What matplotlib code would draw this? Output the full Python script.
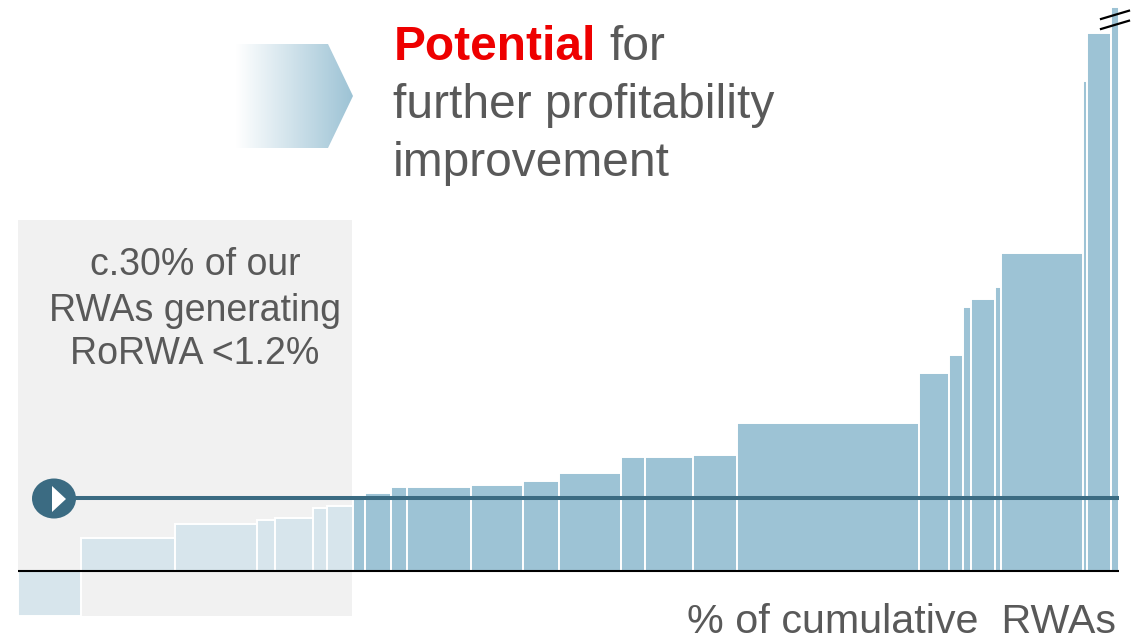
import numpy as np
import matplotlib
matplotlib.use("Agg")
import matplotlib.pyplot as plt
from matplotlib.patches import Polygon, Ellipse, Rectangle

plt.rcParams['font.family'] = ['Liberation Sans', 'DejaVu Sans']

W, H = 1145, 642

# share of cumulative RWAs (%) and RoRWA (%) of each business
widths = [5.72, 8.54, 7.45, 1.63, 3.45, 1.27, 2.36, 1.09, 2.36, 1.45, 5.81, 4.72, 3.27,
          5.63, 2.18, 4.36, 4.00, 16.53, 2.72, 1.27, 0.73, 2.18, 0.54, 7.45, 0.36, 2.18, 0.73]
rorwa = [-0.73, 0.54, 0.76, 0.83, 0.86, 1.02, 1.05, 1.20, 1.26, 1.36, 1.36, 1.39, 1.46,
         1.59, 1.85, 1.85, 1.88, 2.40, 3.21, 3.50, 4.28, 4.41, 4.61, 5.16, 7.95, 8.72, 9.15]
n_light = 7
threshold = 1.19

box_lines = ["c.30% of our", "RWAs generating", "RoRWA <1.2%"]
head_lines = ["further profitability", "improvement"]
x_label = "% of cumulative  RWAs"

light = "#d7e5ec"
dark = "#9dc3d5"
line_col = "#3b6b82"
grey = "#595959"

fig = plt.figure(figsize=(W / 100, H / 100), dpi=100, facecolor="white")

# background layer in pixel coords, for the box, arrow and text
deco = fig.add_axes([0, 0, 1, 1], zorder=1)
deco.set_xlim(0, W)
deco.set_ylim(H, 0)
deco.axis("off")

deco.add_patch(Rectangle((18, 220), 334, 396, fc="#f1f1f1", ec="none"))

grad = np.linspace(0, 1, 256).reshape(1, -1, 1)
c0 = np.array(matplotlib.colors.to_rgb("white"))
c1 = np.array(matplotlib.colors.to_rgb(dark))
im = deco.imshow(c0 + (c1 - c0) * grad, extent=(236, 353, 148, 44), aspect="auto", zorder=2)
arrow = Polygon([(236, 44), (328, 44), (353, 96), (328, 148), (236, 148)], closed=True,
                fc="none", ec="none", transform=deco.transData)
deco.add_patch(arrow)
im.set_clip_path(arrow)
deco.set_xlim(0, W)
deco.set_ylim(H, 0)

deco.text(394, 60, "Potential", color="#ee0000", fontsize=34.5, fontweight="bold", va="baseline")
deco.text(609, 60, "for", color=grey, fontsize=34.5, va="baseline")
deco.text(393, 118, head_lines[0], color=grey, fontsize=34.5, va="baseline")
deco.text(393, 176, head_lines[1], color=grey, fontsize=34.5, va="baseline")

for txt, y in zip(box_lines, [275, 321, 364]):
    deco.text(195, y, txt, color=grey, fontsize=27, ha="center", va="baseline")
deco.text(1116, 633, x_label, color=grey, fontsize=29.7, ha="right", va="baseline")

# chart layer: x in % of cumulative RWAs, y in RoRWA %
ax = fig.add_axes([18 / W, 0, 1101 / W, 1], zorder=2)
ax.patch.set_alpha(0)
ax.set_xlim(0, 100)
px_per_unit = 61.67
ax.set_ylim((571 - H) / px_per_unit, 571 / px_per_unit)
ax.axis("off")

lefts = np.concatenate([[0], np.cumsum(widths)[:-1]])
colors = [light] * n_light + [dark] * (len(widths) - n_light)
ax.bar(lefts, rorwa, width=widths, align="edge", color=colors, edgecolor="white", linewidth=1.4)

ax.axhline(0, xmin=-0.001, xmax=1, color="black", lw=1.5, zorder=5)
ax.plot([3, 100], [threshold, threshold], color=line_col, lw=2.9, zorder=6,
        solid_capstyle="butt")

# marker and axis break on top, again in pixels
top = fig.add_axes([0, 0, 1, 1], zorder=3)
top.patch.set_alpha(0)
top.set_xlim(0, W)
top.set_ylim(H, 0)
top.axis("off")
top.add_patch(Ellipse((54, 498.5), 44, 40, fc=line_col, ec="none"))
top.add_patch(Polygon([(52, 486), (52, 512), (66, 499)], closed=True, fc="white", ec="none"))
top.plot([1101, 1129], [19, 10.7], color="black", lw=1.6)
top.plot([1101, 1129], [29, 20.7], color="black", lw=1.6)

fig.savefig("out.png", dpi=100)
